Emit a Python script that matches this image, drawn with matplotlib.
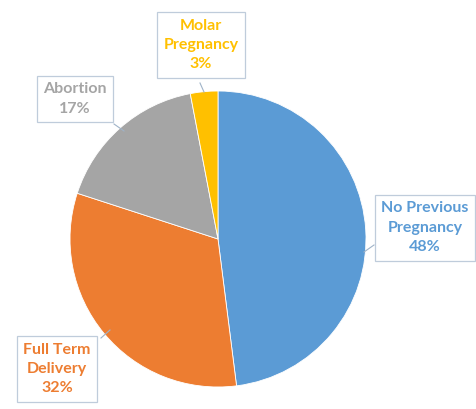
import matplotlib.pyplot as plt

# slice data, clockwise from 12 o'clock
categories = ["No Previous\nPregnancy", "Full Term\nDelivery", "Abortion", "Molar\nPregnancy"]
shares = [48, 32, 17, 3]
colors = ["#5B9BD5", "#ED7D31", "#A5A5A5", "#FFC000"]

W, H = 477, 409
CX, CY, R = 218, H - 239, 148

fig = plt.figure(figsize=(W / 100, H / 100), dpi=100)
ax = fig.add_axes([0, 0, 1, 1])

ax.pie(shares, colors=colors, startangle=90, counterclock=False,
       center=(CX, CY), radius=R, frame=True,
       wedgeprops=dict(edgecolor="white", linewidth=0.6))
ax.set_xlim(0, W)
ax.set_ylim(0, H)
ax.set_aspect("equal")
ax.axis("off")

# label boxes (pixel positions, y measured from top) and leader line ends
label_pos = [(425, 228), (57, 369), (75, 99), (201, 45)]
leaders = [((374, 245), (364, 252)),
           ((101, 338), (110, 330)),
           ((114, 124), (124, 131)),
           ((200, 83), (204, 92))]

for cat, share, col, (lx, ly), (p0, p1) in zip(categories, shares, colors, label_pos, leaders):
    ax.plot([p0[0], p1[0]], [H - p0[1], H - p1[1]], color="#9FB3C8", lw=0.8)
    ax.text(lx, H - ly, f"{cat}\n{share}%", ha="center", va="center",
            color=col, fontsize=11.5, fontweight="bold", family="Lato",
            linespacing=1.5,
            bbox=dict(boxstyle="square,pad=0.4", facecolor="white",
                      edgecolor="#BFCCDB", linewidth=0.9))

fig.savefig("out.png", dpi=100)
